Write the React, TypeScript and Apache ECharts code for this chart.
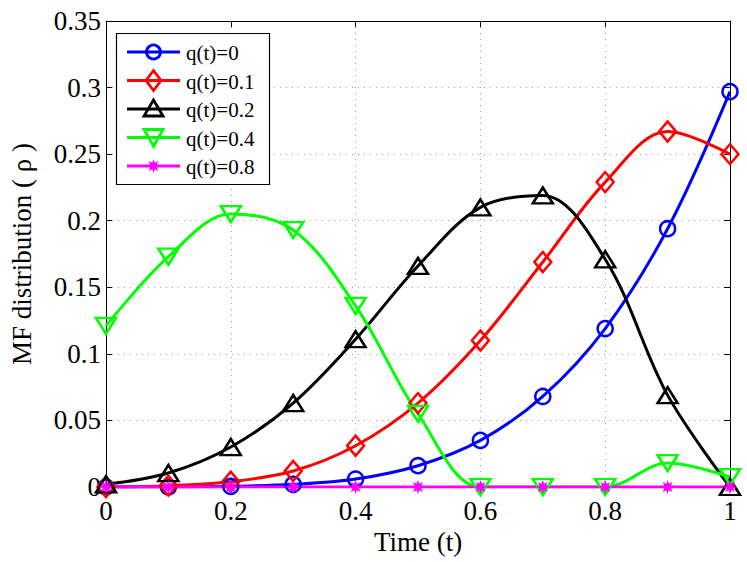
import React, { useEffect, useRef } from "react";
import * as echarts from "echarts";

const timeSteps = [0, 0.1, 0.2, 0.3, 0.4, 0.5, 0.6, 0.7, 0.8, 0.9, 1.0];
const seriesNames = ["q(t)=0", "q(t)=0.1", "q(t)=0.2", "q(t)=0.4", "q(t)=0.8"];
const seriesColors = ["#0000ff", "#ff0000", "#000000", "#00ff00", "#ff00ff"];
const q0 = [0, 0, 0.0005, 0.002, 0.006, 0.016, 0.035, 0.068, 0.119, 0.194, 0.297];
const q01 = [0, 0.001, 0.004, 0.012, 0.031, 0.063, 0.11, 0.169, 0.229, 0.267, 0.25];
const q02 = [0.002, 0.0105, 0.03, 0.063, 0.111, 0.166, 0.21, 0.219, 0.171, 0.069, 0];
const q04 = [0.121, 0.173, 0.205, 0.193, 0.136, 0.055, 0, 0, 0, 0.018, 0.0075];
const q08 = [0, 0, 0, 0, 0, 0, 0, 0, 0, 0, 0];
const xTicks = [0, 0.2, 0.4, 0.6, 0.8, 1];
const yTicks = [0, 0.05, 0.1, 0.15, 0.2, 0.25, 0.3, 0.35];

const FONT = "'Liberation Serif', 'Times New Roman', Times, serif";
const STAR_PTS = [
  [20, 10], [14.62, 11.91], [17.07, 17.07], [11.91, 14.62], [10, 20], [8.09, 14.62],
  [2.93, 17.07], [5.38, 11.91], [0, 10], [5.38, 8.09], [2.93, 2.93], [8.09, 5.38],
  [10, 0], [11.91, 5.38], [17.07, 2.93], [14.62, 8.09],
];
const STAR = "path://M" + STAR_PTS.map((p) => p.join(" ")).join(" L") + " Z";

export default function App() {
  const ref = useRef<HTMLDivElement>(null);
  useEffect(() => {
    document.body.style.margin = "0";
    if (!ref.current) return;
    const chart = echarts.init(ref.current, undefined, { renderer: "svg" });
    const pts = (ys: number[]) => timeSteps.map((t, i) => [t, ys[i]]);
    const mk = (
      idx: number,
      ys: number[],
      symbol: string,
      size: number | number[],
      rotate = 0,
      filled = false
    ) => {
      const color = seriesColors[idx];
      return {
        name: seriesNames[idx],
        type: "line",
        data: pts(ys),
        smooth: 0.35,
        symbol,
        symbolSize: size,
        symbolRotate: rotate,
        showAllSymbol: true,
        color,
        lineStyle: { color, width: 3 },
        itemStyle: filled
          ? { color, borderWidth: 0 }
          : { color: "rgba(255,255,255,0)", borderColor: color, borderWidth: 2.5 },
        emphasis: { disabled: true },
        z: 2,
      };
    };
    const fmt = (v: number) => String(parseFloat(v.toFixed(2)));
    const axisCommon = {
      type: "value",
      axisLine: { show: true, onZero: false, lineStyle: { color: "#000", width: 1 } },
      axisTick: { show: true, inside: true, length: 6, lineStyle: { color: "#000", width: 1 } },
    };

    // MATLAB-style legend box
    const LX = 116, LY = 33, LW = 153, LH = 151;
    const rowY = (i: number) => LY + 19 + i * 28.5;
    const mx = 153.5;
    const legendEls: any[] = [
      {
        type: "rect",
        shape: { x: LX + 0.5, y: LY + 0.5, width: LW, height: LH },
        style: { fill: "#fff", stroke: "#000", lineWidth: 1.2 },
        z: 100,
      },
    ];
    seriesNames.forEach((name, i) => {
      const y = rowY(i);
      const c = seriesColors[i];
      legendEls.push({
        type: "line",
        shape: { x1: 127, y1: y, x2: 180, y2: y },
        style: { stroke: c, lineWidth: 3 },
        z: 101,
      });
      const ms = { fill: "none", stroke: c, lineWidth: 2.8 };
      let m: any;
      if (i === 0) m = { type: "circle", shape: { cx: mx, cy: y, r: 7 }, style: ms };
      else if (i === 1)
        m = { type: "polygon", shape: { points: [[mx, y - 10], [mx + 7.5, y], [mx, y + 10], [mx - 7.5, y]] }, style: ms };
      else if (i === 2)
        m = { type: "polygon", shape: { points: [[mx, y - 9], [mx + 9.5, y + 7], [mx - 9.5, y + 7]] }, style: ms };
      else if (i === 3)
        m = { type: "polygon", shape: { points: [[mx, y + 9], [mx + 9.5, y - 8], [mx - 9.5, y - 8]] }, style: ms };
      else
        m = {
          type: "polygon",
          shape: { points: STAR_PTS.map((p) => [mx - 7 + p[0] * 0.7, y - 7 + p[1] * 0.7]) },
          style: { fill: c, stroke: "none" },
        };
      m.z = 102;
      legendEls.push(m);
      legendEls.push({
        type: "text",
        x: 186,
        y: y + 1,
        style: {
          text: name,
          fontFamily: FONT,
          fontSize: 21,
          fill: "#000",
          verticalAlign: "middle",
          align: "left",
        },
        z: 102,
      });
    });

    chart.setOption({
      animation: false,
      backgroundColor: "#fff",
      textStyle: { fontFamily: FONT, color: "#000" },
      grid: { left: 103, right: 17, top: 21, bottom: 75, containLabel: false },
      graphic: legendEls,
      xAxis: [
        {
          ...axisCommon,
          position: "bottom",
          min: 0,
          max: 1,
          interval: 0.2,
          name: "Time (t)",
          nameLocation: "middle",
          nameGap: 36,
          nameTextStyle: { fontFamily: FONT, fontSize: 27, color: "#000" },
          axisLabel: {
            fontFamily: FONT,
            fontSize: 27,
            color: "#000",
            margin: 10,
            formatter: (v: number) => (xTicks.includes(parseFloat(v.toFixed(2))) ? fmt(v) : ""),
          },
          splitLine: { show: true, lineStyle: { color: "#a0a0a0", type: [1, 5], width: 1 } },
        },
        {
          ...axisCommon,
          position: "top",
          min: 0,
          max: 1,
          interval: 0.2,
          axisLabel: { show: false },
          splitLine: { show: false },
        },
      ],
      yAxis: [
        {
          ...axisCommon,
          position: "left",
          min: 0,
          max: 0.35,
          interval: 0.05,
          name: "MF distribution ( ρ )",
          nameLocation: "middle",
          nameGap: 71,
          nameTextStyle: { fontFamily: FONT, fontSize: 27, color: "#000" },
          axisLabel: {
            fontFamily: FONT,
            fontSize: 27,
            color: "#000",
            margin: 5,
            formatter: (v: number) => (yTicks.includes(parseFloat(v.toFixed(2))) ? fmt(v) : ""),
          },
          splitLine: { show: true, lineStyle: { color: "#a0a0a0", type: [1, 5], width: 1 } },
        },
        {
          ...axisCommon,
          position: "right",
          min: 0,
          max: 0.35,
          interval: 0.05,
          axisLabel: { show: false },
          splitLine: { show: false },
        },
      ],
      series: [
        mk(0, q0, "circle", 15),
        mk(1, q01, "diamond", [17, 20]),
        mk(2, q02, "triangle", [20, 16]),
        mk(3, q04, "triangle", [20, 16], 180),
        mk(4, q08, STAR, 14, 0, true),
      ],
    });
    return () => chart.dispose();
  }, []);
  return <div ref={ref} style={{ width: 747, height: 562 }} />;
}
